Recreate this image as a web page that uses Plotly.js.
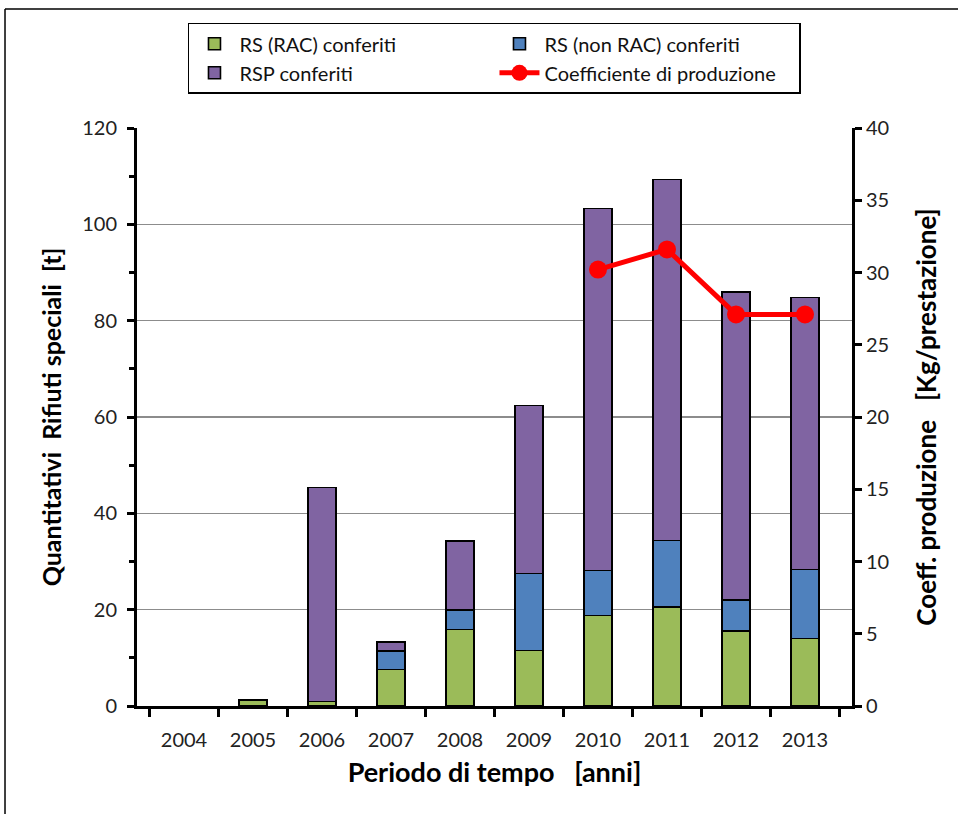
<!DOCTYPE html>
<html>
<head>
<meta charset="utf-8">
<script src="https://cdn.plot.ly/plotly-3.0.1.min.js"></script>
<style>
  html, body { margin: 0; padding: 0; background: #fff; }
  #chart { width: 958px; height: 814px; }
</style>
</head>
<body>
<div id="chart"></div>
<script>
const years = ['2004', '2005', '2006', '2007', '2008', '2009', '2010', '2011', '2012', '2013'];
const rsRac = [null, 1.25, 0.9, 7.6, 15.85, 11.5, 18.8, 20.6, 15.6, 14.0];
const rsNonRac = [null, 0, 0, 3.8, 4.05, 16.0, 9.3, 13.8, 6.4, 14.3];
const rsp = [null, 0, 44.5, 1.9, 14.4, 34.9, 75.2, 74.9, 63.9, 56.5];
const coeff = [null, null, null, null, null, null, 30.2, 31.6, 27.1, 27.1];

const FONT = 'Lato, "Open Sans", sans-serif';
const barLine = { color: '#000', width: 1.6 };

const traces = [
  { type: 'bar', name: 'RS (RAC) conferiti', x: years, y: rsRac,
    marker: { color: '#9BBB59', line: barLine } },
  { type: 'bar', name: 'RS (non RAC) conferiti', x: years, y: rsNonRac,
    marker: { color: '#4F81BD', line: barLine } },
  { type: 'bar', name: 'RSP conferiti', x: years, y: rsp,
    marker: { color: '#8064A2', line: barLine } },
  { type: 'scatter', mode: 'lines+markers', name: 'Coefficiente di produzione',
    x: years, y: coeff, yaxis: 'y2', connectgaps: false,
    line: { color: '#FF0000', width: 5 },
    marker: { color: '#FF0000', size: 18 } }
];

const layout = {
  width: 958, height: 814,
  margin: { l: 137, r: 106, t: 128, b: 108 },
  paper_bgcolor: '#fff', plot_bgcolor: '#fff',
  font: { family: FONT, size: 20, color: '#222' },
  barmode: 'stack',
  bargap: 0.6,
  showlegend: true,
  legend: {
    orientation: 'h', traceorder: 'normal',
    x: 0.0713, xanchor: 'left', y: 1.182, yanchor: 'top',
    bgcolor: '#fff', bordercolor: '#000', borderwidth: 1.5,
    entrywidth: 250, entrywidthmode: 'pixels',
    font: { family: FONT, size: 20, color: '#111' },
    itemwidth: 40
  },
  xaxis: {
    type: 'category',
    showline: true, linecolor: '#000', linewidth: 3,
    ticks: 'outside', tickson: 'boundaries', ticklen: 8, tickwidth: 3, tickcolor: '#000',
    ticklabelstandoff: 14,
    showgrid: false, zeroline: false,
    tickfont: { family: FONT, size: 20, color: '#222' },
    title: { text: '<b>Periodo di tempo   [anni]</b>', standoff: 14,
             font: { family: FONT, size: 27, color: '#000' } }
  },
  yaxis: {
    range: [0, 120], tickvals: [0, 20, 40, 60, 80, 100, 120],
    showline: true, linecolor: '#000', linewidth: 3,
    ticks: 'outside', ticklen: 7, tickwidth: 3, tickcolor: '#000',
    ticklabelstandoff: 6,
    minor: { dtick: 10, ticks: 'outside', ticklen: 5, tickwidth: 3, tickcolor: '#000', showgrid: false },
    showgrid: true, gridcolor: '#8c8c8c', gridwidth: 1.5,
    zeroline: false,
    tickfont: { family: FONT, size: 20, color: '#222' },
    title: { text: '<b>Quantitativi  Rifiuti speciali  [t]</b>', standoff: 14,
             font: { family: FONT, size: 25, color: '#000' } }
  },
  yaxis2: {
    overlaying: 'y', side: 'right',
    range: [0, 40], dtick: 5,
    showline: true, linecolor: '#000', linewidth: 3,
    ticks: 'outside', ticklen: 7, tickwidth: 3, tickcolor: '#000',
    showgrid: false, zeroline: false,
    tickfont: { family: FONT, size: 20, color: '#222' },
    title: { text: '<b>Coeff. produzione   [Kg/prestazione]</b>', standoff: 30,
             font: { family: FONT, size: 26, color: '#000' } }
  },
  shapes: [
    { type: 'line', xref: 'paper', yref: 'paper', x0: -0.1846, x1: -0.1846, y0: 1.2059, y1: -0.25,
      line: { color: '#000', width: 1.5 } },
    { type: 'line', xref: 'paper', yref: 'paper', x0: -0.1846, x1: 1.25, y0: 1.2059, y1: 1.2059,
      line: { color: '#000', width: 1.5 } }
  ]
};

Plotly.newPlot('chart', traces, layout, { displayModeBar: false, staticPlot: true });
</script>
</body>
</html>
